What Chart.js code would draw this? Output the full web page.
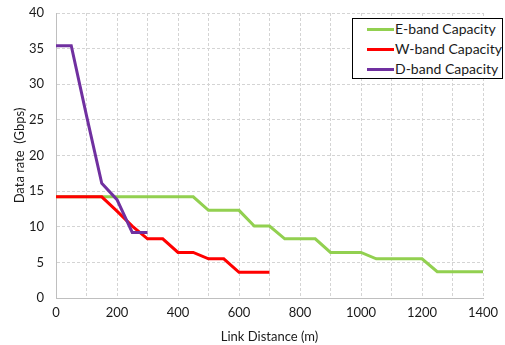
<!DOCTYPE html>
<html>
<head>
<meta charset="utf-8">
<script src="https://cdn.jsdelivr.net/npm/chart.js@4/dist/chart.umd.min.js"></script>
<style>
  html, body { margin: 0; padding: 0; background: #fff; }
  #wrap { position: relative; width: 505px; height: 345px; }
  #legend {
    position: absolute; left: 352px; top: 18px; width: 149px; height: 59px;
    border: 1px solid #000; background: #fff;
    font-family: Lato, "Liberation Sans", sans-serif; font-size: 14px; color: #1a1a1a;
  }
  .item { position: absolute; left: 14px; height: 16px; line-height: 16px; white-space: nowrap; }
  .swatch { display: inline-block; width: 27px; height: 3px; vertical-align: middle; margin-right: 1px; position: relative; top: -1px; }
</style>
</head>
<body>
<div id="wrap">
  <canvas id="c" width="505" height="345"></canvas>
  <div id="legend"></div>
</div>
<script>
const eDistance = [0,50,100,150,200,250,300,350,400,450,500,550,600,650,700,750,800,850,900,950,1000,1050,1100,1150,1200,1250,1300,1350,1400];
const eCapacity = [14.2,14.2,14.2,14.2,14.2,14.2,14.2,14.2,14.2,14.2,12.3,12.3,12.3,10.1,10.1,8.3,8.3,8.3,6.4,6.4,6.4,5.5,5.5,5.5,5.5,3.7,3.7,3.7,3.7];
const wDistance = [0,50,100,150,200,250,300,350,400,450,500,550,600,650,700];
const wCapacity = [14.2,14.2,14.2,14.2,12.2,10.1,8.3,8.3,6.4,6.4,5.5,5.5,3.6,3.6,3.6];
const dDistance = [0,50,100,150,200,250,300];
const dCapacity = [35.4,35.4,25.6,16.1,13.8,9.2,9.2];
const seriesNames = ["E-band Capacity","W-band Capacity","D-band Capacity"];
const seriesColors = ["#92d050","#ff0000","#7030a0"];
const yTicks = [0,5,10,15,20,25,30,35,40];
const xTicks = [0,200,400,600,800,1000,1200,1400];

function pts(xs, ys) { return xs.map((x, i) => ({x: x, y: ys[i]})); }

const FONT = "Lato, 'Liberation Sans', sans-serif";
const datasets = [
  {label: seriesNames[0], data: pts(eDistance, eCapacity), borderColor: seriesColors[0], order: 3},
  {label: seriesNames[1], data: pts(wDistance, wCapacity), borderColor: seriesColors[1], order: 2},
  {label: seriesNames[2], data: pts(dDistance, dCapacity), borderColor: seriesColors[2], order: 1}
].map(d => Object.assign(d, {borderWidth: 3, pointRadius: 0, tension: 0, fill: false, borderJoinStyle: 'miter'}));

new Chart(document.getElementById('c'), {
  type: 'line',
  data: {datasets: datasets},
  options: {
    responsive: false,
    animation: false,
    events: [],
    layout: {padding: {top: 13, right: 22, left: 0, bottom: 0}},
    plugins: {legend: {display: false}, tooltip: {enabled: false}},
    scales: {
      x: {
        type: 'linear', min: 0, max: 1400,
        afterFit: s => { s.height = 47; s.paddingLeft = 0; s.paddingRight = 0; },
        afterBuildTicks: s => { s.ticks = []; for (let v = 0; v <= 1400; v += 100) s.ticks.push({value: v}); },
        ticks: {
          autoSkip: false, maxRotation: 0, padding: 7, color: '#1a1a1a',
          font: {family: FONT, size: 13},
          callback: v => xTicks.includes(v) ? String(v) : ''
        },
        grid: {color: '#d4d4d4', drawTicks: false, lineWidth: 1},
        border: {display: true, color: '#bfbfbf', width: 1, dash: [3, 2]},
        title: {display: true, text: 'Link Distance (m)', color: '#1a1a1a', font: {family: FONT, size: 13}, padding: {top: 0, bottom: 0}}
      },
      y: {
        type: 'linear', min: 0, max: 40,
        afterFit: s => { s.width = 56; s.paddingTop = 0; s.paddingBottom = 0; },
        afterBuildTicks: s => { s.ticks = yTicks.map(v => ({value: v})); },
        ticks: {padding: 12, color: '#1a1a1a', font: {family: FONT, size: 13}},
        grid: {color: '#d4d4d4', drawTicks: false, lineWidth: 1},
        border: {display: true, color: '#bfbfbf', width: 1, dash: [3, 2]},
        title: {display: true, text: 'Data rate  (Gbps)', color: '#1a1a1a', font: {family: FONT, size: 13}, padding: {top: 12, bottom: 0}}
      }
    }
  }
});

const legend = document.getElementById('legend');
const rowTops = [2, 22, 42];
seriesNames.forEach((n, i) => {
  const it = document.createElement('div');
  it.className = 'item';
  it.style.top = rowTops[i] + 'px';
  it.innerHTML = '<span class="swatch" style="background:' + seriesColors[i] + '"></span>';
  it.appendChild(document.createTextNode(n));
  legend.appendChild(it);
});
</script>
</body>
</html>
